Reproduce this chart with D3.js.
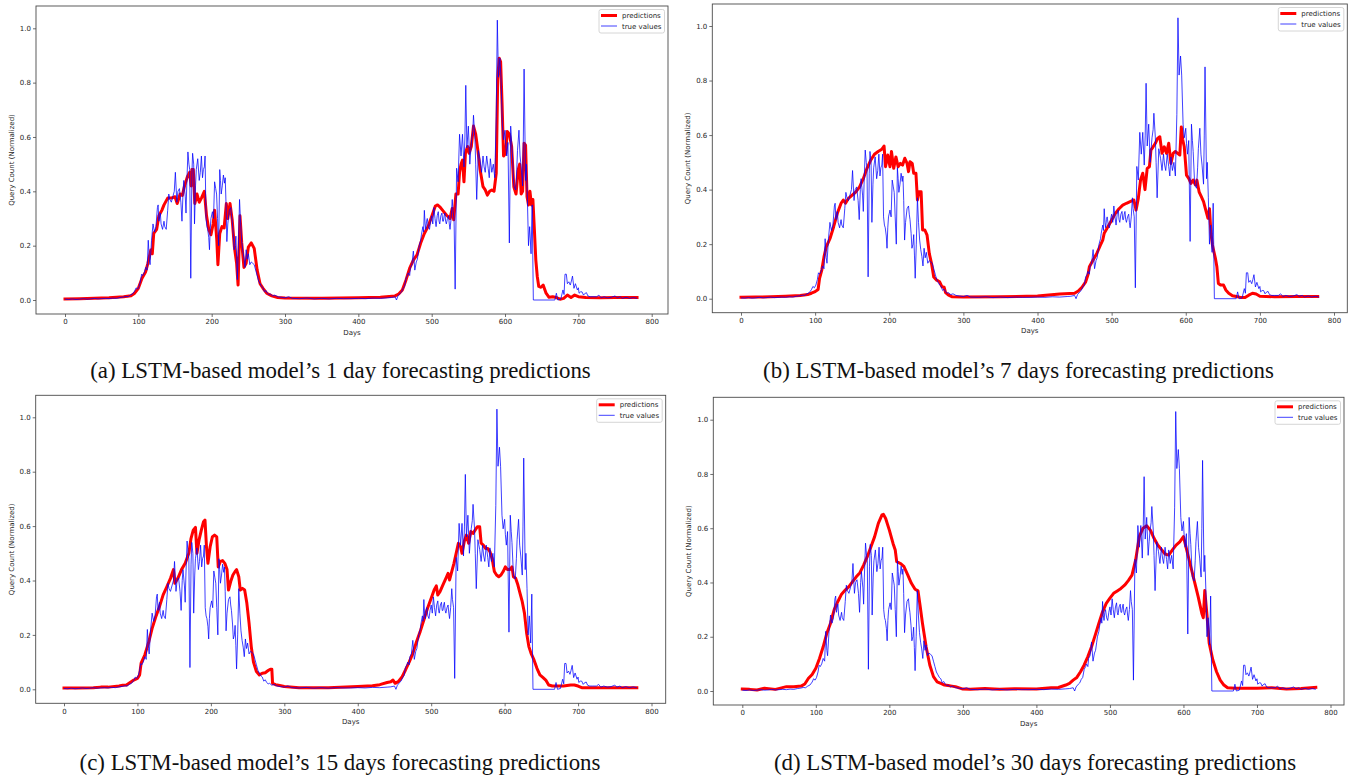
<!DOCTYPE html>
<html>
<head>
<meta charset="utf-8">
<script src="https://cdn.jsdelivr.net/npm/d3@7"></script>
<style>
  html, body { margin: 0; padding: 0; background: #ffffff; }
  svg { display: block; }
</style>
</head>
<body>
<svg id="fig" width="1357" height="778"></svg>
<script>
// Normalised daily query counts: [day, value]
const trueValues = [
  [0,0.003],[5,0.002],[10,0.004],[15,0.002],[20,0.003],[25,0.005],[30,0.003],[35,0.004],[40,0.006],[45,0.004],
  [50,0.005],[55,0.006],[60,0.005],[65,0.007],[70,0.006],[75,0.009],[80,0.011],[83,0.013],[86,0.012],[89,0.018],
  [92,0.022],[95,0.033],[97,0.045],[99,0.04],[101,0.05],[103,0.07],[104.5,0.095],[106,0.09],[108,0.1],[110,0.12],
  [112,0.11],[113.5,0.22],[115,0.15],[116,0.13],[118,0.22],[120,0.28],[122,0.25],[124,0.27],[126,0.34],[127,0.35],
  [128,0.29],[130,0.32],[131,0.28],[133,0.26],[135,0.29],[136,0.27],[138,0.26],[140,0.33],[141.5,0.39],[143,0.37],
  [145,0.36],[147,0.38],[149,0.40],[150.5,0.47],[152.5,0.36],[154,0.40],[156,0.41],[158,0.36],[159.5,0.29],[161,0.40],
  [162,0.44],[164,0.38],[165,0.32],[166,0.42],[167.6,0.545],[169,0.50],[170,0.48],[171.5,0.08],[173,0.46],[174,0.54],
  [175.5,0.50],[176.6,0.28],[178,0.42],[179,0.48],[181,0.52],[183,0.44],[184.5,0.47],[186,0.53],[187.5,0.45],[188.7,0.48],
  [190,0.49],[191,0.53],[192.3,0.30],[193.5,0.27],[194.6,0.26],[196,0.23],[197,0.185],[198,0.26],[199,0.30],[201,0.325],
  [202.5,0.30],[204,0.435],[205.5,0.41],[206.7,0.39],[208,0.30],[209.5,0.20],[211,0.48],[212,0.44],[213,0.39],[214.5,0.42],
  [216,0.46],[217.5,0.43],[218.5,0.45],[219.5,0.36],[220.7,0.215],[222,0.28],[224,0.33],[226,0.34],[227,0.31],[228,0.29],
  [229.5,0.24],[230.6,0.185],[232,0.20],[233,0.235],[234,0.16],[235,0.075],[236.5,0.20],[238,0.37],[239.5,0.28],[241,0.215],
  [242.5,0.18],[244,0.155],[245.5,0.12],[247,0.185],[248.5,0.15],[250,0.17],[252,0.13],[254,0.14],[256,0.135],[258,0.13],
  [260,0.11],[262,0.09],[264,0.07],[266,0.06],[268,0.05],[270,0.045],[272,0.03],[274,0.035],[276,0.025],[278,0.02],
  [280,0.022],[283,0.015],[286,0.018],[290,0.012],[295,0.01],[300,0.008],[305,0.012],[310,0.006],[320,0.005],[330,0.007],
  [340,0.004],[350,0.006],[360,0.004],[370,0.006],[380,0.005],[390,0.005],[400,0.006],[410,0.005],[420,0.007],[430,0.006],
  [440,0.008],[445,0.009],[450,0.012],[452,0.0],[454,0.015],[457,0.025],[459,0.03],[461,0.043],[463,0.05],[465,0.08],
  [467,0.09],[468,0.1],[470,0.09],[471,0.12],[473,0.13],[475,0.18],[477,0.11],[479,0.14],[480.5,0.15],[482,0.18],
  [483,0.20],[485,0.22],[486,0.24],[488,0.27],[489,0.25],[490,0.33],[491,0.28],[492,0.26],[493,0.29],[494,0.30],
  [495.5,0.27],[497,0.26],[498.5,0.29],[500,0.31],[501.5,0.28],[503,0.34],[504.5,0.30],[506,0.27],[507.5,0.31],[509,0.325],
  [510,0.29],[511,0.28],[512.5,0.31],[514,0.32],[515,0.29],[516,0.29],[517,0.31],[518,0.32],[519,0.29],[520,0.28],
  [521.5,0.30],[523,0.31],[524,0.28],[525,0.26],[526.5,0.30],[528,0.37],[529,0.33],[530.5,0.30],[532,0.04],[534,0.485],
  [536,0.435],[538,0.61],[540,0.53],[542,0.61],[544,0.49],[545.3,0.60],[546.5,0.79],[548,0.56],[550,0.64],[552,0.50],
  [553.3,0.55],[554.5,0.59],[556,0.62],[557,0.68],[559,0.59],[560,0.50],[561.4,0.37],[563.6,0.55],[566,0.515],[568,0.47],
  [570,0.53],[571.5,0.49],[573,0.47],[575,0.53],[577,0.485],[578.5,0.45],[580,0.52],[582,0.47],[584,0.50],[586,0.45],
  [588,0.675],[589.5,1.03],[591,0.82],[593,0.89],[594.5,0.82],[596.4,0.64],[598,0.59],[600,0.625],[601,0.57],[602.3,0.53],
  [604,0.58],[605.9,0.21],[607.7,0.64],[609,0.58],[610,0.54],[612,0.42],[614.5,0.405],[616,0.48],[617,0.55],[619,0.625],
  [620.5,0.53],[622,0.49],[624,0.42],[625,0.60],[626,0.85],[628,0.44],[629,0.50],[630.5,0.37],[632,0.20],[633.6,0.27],
  [635.5,0.17],[637,0.35],[638.6,0.0],[668,0.0],[670,0.025],[672,0.0],[676,0.003],[679,0.037],[680.5,0.02],[681.8,0.095],
  [683.6,0.095],[685,0.06],[687,0.067],[689,0.055],[690.5,0.07],[692,0.088],[694,0.043],[696,0.06],[698.6,0.037],[700,0.045],
  [701,0.025],[703,0.03],[705,0.03],[707,0.018],[708,0.022],[711,0.027],[713,0.015],[716,0.012],[720,0.012],[725,0.012],
  [728,0.018],[731,0.008],[735,0.012],[740,0.008],[745,0.01],[750,0.015],[753,0.008],[757,0.012],[760,0.006],[765,0.01],
  [770,0.006],[775,0.009],[780,0.006]
];

// Model outputs for each forecasting horizon: [day, value]
const predOneDay = [
  [0,0.004],[20,0.005],[40,0.006],[60,0.008],[80,0.012],[90,0.016],[95,0.025],[100,0.043],[105,0.08],[110,0.104],
  [113,0.135],[117,0.184],[119,0.17],[121,0.245],[125,0.26],[128,0.31],[132,0.33],[135,0.35],[140,0.375],[145,0.375],
  [150,0.38],[153,0.355],[157,0.39],[160,0.385],[163,0.42],[167,0.455],[170,0.47],[172,0.42],[173,0.48],[175,0.48],
  [177,0.355],[180,0.39],[183,0.36],[186,0.375],[190,0.40],[193,0.31],[196,0.26],[199,0.24],[202,0.28],[204,0.33],
  [207,0.22],[208.5,0.13],[211,0.245],[214,0.27],[217,0.265],[220,0.355],[222,0.30],[225,0.355],[228,0.295],[231,0.195],
  [234,0.135],[236,0.055],[238.6,0.31],[241,0.21],[244,0.12],[247,0.135],[250,0.195],[254,0.21],[258,0.19],[262,0.11],
  [266,0.06],[270,0.043],[275,0.025],[282,0.015],[290,0.009],[300,0.007],[350,0.006],[400,0.008],[430,0.01],[450,0.015],
  [455,0.022],[460,0.037],[465,0.074],[470,0.117],[475,0.147],[480,0.166],[485,0.21],[490,0.245],[495,0.27],[500,0.307],
  [505,0.346],[508,0.35],[511,0.343],[515,0.33],[520,0.313],[525,0.30],[528,0.337],[530,0.295],[533,0.39],[536,0.39],
  [538,0.47],[540,0.50],[542,0.515],[544,0.435],[546,0.54],[549,0.565],[551,0.54],[554,0.565],[557,0.64],[560,0.61],
  [563,0.55],[566,0.48],[570,0.417],[573,0.405],[576,0.386],[579,0.40],[582,0.405],[585,0.40],[588,0.466],[590,0.81],
  [592,0.89],[594,0.877],[596,0.72],[598,0.53],[601,0.54],[603,0.62],[606,0.61],[609,0.565],[612,0.417],[615,0.39],
  [618,0.48],[620,0.50],[622,0.39],[624,0.40],[626,0.577],[628,0.57],[630,0.38],[632,0.35],[634,0.40],[636,0.35],
  [638,0.37],[640,0.26],[642,0.147],[644,0.086],[646,0.05],[649,0.047],[652,0.055],[656,0.025],[660,0.01],[665,0.012],
  [670,0.009],[675,0.003],[680,0.006],[685,0.018],[690,0.009],[695,0.018],[700,0.012],[710,0.009],[730,0.008],[750,0.009],
  [780,0.009]
];

const predSevenDays = [
  [0,0.005],[20,0.006],[40,0.007],[60,0.009],[80,0.012],[90,0.015],[95,0.02],[100,0.026],[104,0.034],[106,0.075],
  [109,0.105],[112,0.154],[115,0.19],[120,0.22],[125,0.264],[130,0.313],[135,0.35],[138,0.362],[141,0.35],[145,0.368],
  [150,0.38],[155,0.392],[160,0.41],[165,0.44],[170,0.478],[175,0.508],[180,0.53],[185,0.54],[190,0.548],[193,0.56],
  [195,0.484],[198,0.527],[201,0.484],[203,0.54],[206,0.478],[209,0.52],[212,0.484],[215,0.496],[218,0.49],[221,0.515],
  [224,0.496],[226,0.466],[228,0.502],[231,0.496],[233,0.46],[236,0.46],[238,0.362],[240,0.392],[243,0.392],[245,0.252],
  [248,0.252],[251,0.233],[254,0.166],[257,0.13],[260,0.08],[264,0.068],[268,0.062],[271,0.044],[274,0.042],[276,0.022],
  [280,0.013],[285,0.007],[300,0.006],[350,0.007],[400,0.01],[430,0.017],[450,0.02],[455,0.028],[460,0.042],[465,0.062],
  [468,0.087],[470,0.117],[475,0.142],[480,0.166],[485,0.197],[488,0.215],[490,0.24],[495,0.264],[500,0.288],[505,0.313],
  [510,0.33],[515,0.343],[520,0.35],[525,0.356],[530,0.362],[533,0.325],[536,0.368],[539,0.435],[542,0.46],[545,0.40],
  [548,0.478],[551,0.484],[553,0.545],[556,0.557],[559,0.57],[562,0.588],[565,0.594],[568,0.533],[571,0.557],[574,0.533],
  [577,0.57],[580,0.496],[583,0.533],[586,0.54],[589,0.533],[592,0.527],[594,0.63],[596,0.582],[598,0.557],[601,0.453],
  [604,0.441],[607,0.423],[610,0.435],[613,0.417],[615,0.435],[618,0.392],[621,0.374],[624,0.356],[627,0.325],[630,0.295],
  [632,0.33],[634,0.24],[636,0.197],[638,0.172],[640,0.148],[642,0.117],[644,0.056],[647,0.05],[651,0.05],[654,0.032],
  [658,0.02],[663,0.011],[670,0.007],[675,0.004],[680,0.004],[685,0.013],[690,0.02],[695,0.017],[700,0.009],[720,0.007],
  [750,0.008],[778,0.008]
];

const predFifteenDays = [
  [0,0.005],[20,0.005],[40,0.006],[50,0.008],[60,0.008],[75,0.012],[80,0.015],[85,0.016],[90,0.025],[95,0.034],
  [100,0.04],[103,0.053],[105,0.096],[110,0.126],[115,0.17],[120,0.224],[125,0.267],[130,0.304],[135,0.347],[140,0.377],
  [145,0.408],[149,0.44],[151,0.39],[155,0.408],[160,0.44],[165,0.463],[170,0.50],[173,0.555],[176,0.585],[179,0.595],
  [181,0.50],[184,0.55],[187,0.585],[190,0.616],[192,0.622],[194,0.524],[196,0.463],[199,0.524],[202,0.56],[205,0.567],
  [208,0.56],[210,0.45],[213,0.47],[216,0.473],[219,0.463],[222,0.44],[224,0.365],[227,0.396],[230,0.42],[233,0.433],
  [235,0.44],[238,0.414],[240,0.365],[243,0.371],[246,0.365],[249,0.316],[252,0.243],[255,0.157],[258,0.10],[262,0.065],
  [266,0.053],[270,0.059],[274,0.061],[278,0.069],[281,0.074],[283,0.074],[284,0.022],[288,0.017],[292,0.015],[300,0.01],
  [320,0.006],[360,0.006],[400,0.01],[420,0.013],[430,0.017],[440,0.025],[445,0.028],[448,0.034],[451,0.022],[455,0.028],
  [460,0.044],[465,0.071],[470,0.10],[475,0.132],[480,0.175],[485,0.212],[490,0.255],[495,0.298],[500,0.335],[504,0.365],
  [507,0.38],[509,0.347],[512,0.359],[516,0.384],[520,0.408],[523,0.426],[525,0.402],[528,0.433],[531,0.463],[534,0.50],
  [537,0.537],[540,0.524],[542,0.50],[545,0.543],[548,0.567],[551,0.537],[554,0.58],[557,0.573],[560,0.586],[563,0.598],
  [566,0.598],[568,0.537],[571,0.53],[574,0.518],[577,0.518],[580,0.506],[583,0.48],[586,0.433],[589,0.42],[592,0.414],
  [595,0.42],[598,0.433],[601,0.45],[604,0.44],[607,0.44],[610,0.45],[612,0.414],[615,0.408],[618,0.384],[621,0.353],
  [624,0.322],[627,0.28],[630,0.206],[633,0.157],[636,0.132],[640,0.108],[644,0.077],[648,0.053],[652,0.044],[656,0.034],
  [660,0.016],[665,0.012],[680,0.012],[690,0.016],[695,0.016],[700,0.012],[705,0.006],[740,0.006],[780,0.006]
];

const predThirtyDays = [
  [0,0.007],[10,0.006],[20,0.004],[30,0.01],[45,0.006],[60,0.016],[70,0.016],[80,0.018],[85,0.026],[90,0.047],
  [95,0.061],[100,0.084],[105,0.12],[110,0.163],[115,0.213],[120,0.25],[125,0.30],[130,0.33],[135,0.357],[140,0.372],
  [145,0.385],[150,0.403],[155,0.421],[160,0.436],[165,0.464],[170,0.495],[175,0.532],[180,0.569],[185,0.618],[190,0.649],
  [192,0.651],[195,0.636],[200,0.593],[205,0.544],[208,0.52],[210,0.477],[215,0.47],[220,0.458],[225,0.428],[230,0.397],
  [235,0.375],[239,0.369],[242,0.311],[245,0.25],[250,0.163],[255,0.096],[260,0.053],[265,0.034],[270,0.028],[275,0.022],
  [280,0.02],[285,0.018],[290,0.016],[300,0.007],[310,0.006],[330,0.009],[350,0.006],[370,0.008],[400,0.007],[420,0.012],
  [430,0.013],[440,0.022],[445,0.028],[450,0.04],[455,0.05],[460,0.071],[465,0.096],[470,0.127],[475,0.163],[480,0.206],
  [485,0.25],[490,0.292],[495,0.323],[500,0.342],[505,0.36],[510,0.369],[515,0.378],[520,0.39],[525,0.407],[530,0.427],
  [535,0.483],[540,0.569],[545,0.60],[550,0.609],[555,0.593],[560,0.563],[565,0.538],[570,0.522],[575,0.505],[580,0.501],
  [585,0.52],[590,0.538],[595,0.55],[600,0.569],[605,0.514],[610,0.458],[615,0.403],[620,0.348],[625,0.286],[627,0.27],
  [629,0.37],[632,0.28],[635,0.176],[640,0.114],[645,0.071],[650,0.04],[655,0.022],[660,0.012],[670,0.01],[700,0.01],
  [720,0.012],[740,0.007],[760,0.009],[780,0.013]
];

const xTickValues = [0, 100, 200, 300, 400, 500, 600, 700, 800];
const yTickValues = [0.0, 0.2, 0.4, 0.6, 0.8, 1.0];
const legendLabels = ["predictions", "true values"];
const xAxisTitle = "Days";
const yAxisTitle = "Query Count (Normalized)";
const captions = [
  "(a) LSTM-based model\u2019s 1 day forecasting predictions",
  "(b) LSTM-based model\u2019s 7 days forecasting predictions",
  "(c) LSTM-based model\u2019s 15 days forecasting predictions",
  "(d) LSTM-based model\u2019s 30 days forecasting predictions"
];
const predictionSeries = [predOneDay, predSevenDays, predFifteenDays, predThirtyDays];

// Layout of the four subplots (pixel frame, axis anchors and caption anchor)
const layout = [
  { box: { l: 36,    t: 6,     r: 668,    b: 314   }, xr: [65, 651.7],    yr: [300, 28.3],   cap: [340.5, 378] },
  { box: { l: 712.3, t: 4,     r: 1347.3, b: 312.7 }, xr: [741, 1334],    yr: [298.7, 26],   cap: [1018.5, 378] },
  { box: { l: 35.7,  t: 395.3, r: 665.7,  b: 703.3 }, xr: [64, 651.5],    yr: [689.3, 417.3], cap: [340, 770] },
  { box: { l: 713.3, t: 397.3, r: 1344,   b: 705   }, xr: [742.3, 1330.5], yr: [691, 419.7],  cap: [1035, 770] }
];

const COLORS = { pred: "#ff0000", truth: "#0000ff", spine: "#4a4a4a", text: "#262626" };
const SANS = "'DejaVu Sans', sans-serif";

const svg = d3.select("#fig");

layout.forEach((p, i) => {
  const g = svg.append("g").attr("class", "panel");
  const x = d3.scaleLinear().domain([0, 800]).range(p.xr);
  const y = d3.scaleLinear().domain([0, 1]).range(p.yr);
  const { l, t, r, b } = p.box;

  const clipId = "clip" + i;
  g.append("clipPath").attr("id", clipId)
    .append("rect").attr("x", l).attr("y", t).attr("width", r - l).attr("height", b - t);

  const line = d3.line().x(d => x(d[0])).y(d => y(d[1]));

  const plot = g.append("g").attr("clip-path", `url(#${clipId})`);
  plot.append("path")
    .datum(predictionSeries[i])
    .attr("d", line)
    .attr("fill", "none")
    .attr("stroke", COLORS.pred)
    .attr("stroke-width", 3)
    .attr("stroke-linejoin", "round")
    .attr("stroke-linecap", "square");
  plot.append("path")
    .datum(trueValues)
    .attr("d", line)
    .attr("fill", "none")
    .attr("stroke", COLORS.truth)
    .attr("stroke-opacity", 0.75)
    .attr("stroke-width", 1)
    .attr("stroke-linejoin", "round");

  // axes
  const xAxis = g.append("g")
    .attr("transform", `translate(0,${b})`)
    .call(d3.axisBottom(x).tickValues(xTickValues).tickSize(3).tickPadding(2.5).tickFormat(d3.format("d")));
  const yAxis = g.append("g")
    .attr("transform", `translate(${l},0)`)
    .call(d3.axisLeft(y).tickValues(yTickValues).tickSize(3).tickPadding(2).tickFormat(d3.format(".1f")));
  [xAxis, yAxis].forEach(a => {
    a.select(".domain").remove();
    a.selectAll(".tick line").attr("stroke", COLORS.spine).attr("stroke-width", 0.8);
    a.selectAll(".tick text").attr("fill", COLORS.text).style("font-family", SANS).style("font-size", "7px");
  });

  // frame
  g.append("rect")
    .attr("x", l).attr("y", t).attr("width", r - l).attr("height", b - t)
    .attr("fill", "none").attr("stroke", COLORS.spine).attr("stroke-width", 0.9);

  // axis titles
  g.append("text")
    .attr("x", (l + r) / 2).attr("y", b + 20.5)
    .attr("text-anchor", "middle")
    .style("font-family", SANS).style("font-size", "7px").attr("fill", COLORS.text)
    .text(xAxisTitle);
  g.append("text")
    .attr("transform", `translate(${l - 22},${(t + b) / 2}) rotate(-90)`)
    .attr("text-anchor", "middle")
    .style("font-family", SANS).style("font-size", "7px").attr("fill", COLORS.text)
    .text(yAxisTitle);

  // legend
  const lw = 65.5, lh = 23.5;
  const lx = r - 3.5 - lw, ly = t + 3.5;
  const leg = g.append("g");
  leg.append("rect")
    .attr("x", lx).attr("y", ly).attr("width", lw).attr("height", lh).attr("rx", 2)
    .attr("fill", "#ffffff").attr("fill-opacity", 0.8)
    .attr("stroke", "#cccccc").attr("stroke-width", 0.8);
  const rows = [
    { label: legendLabels[0], color: COLORS.pred, width: 3, opacity: 1, dy: 6 },
    { label: legendLabels[1], color: COLORS.truth, width: 1, opacity: 0.75, dy: 16.5 }
  ];
  rows.forEach(row => {
    leg.append("line")
      .attr("x1", lx + 2).attr("x2", lx + 18)
      .attr("y1", ly + row.dy).attr("y2", ly + row.dy)
      .attr("stroke", row.color).attr("stroke-width", row.width).attr("stroke-opacity", row.opacity);
    leg.append("text")
      .attr("x", lx + 23).attr("y", ly + row.dy + 2.5)
      .style("font-family", SANS).style("font-size", "7px").attr("fill", COLORS.text)
      .text(row.label);
  });

  // caption
  svg.append("text")
    .attr("class", "caption")
    .attr("x", p.cap[0]).attr("y", p.cap[1])
    .attr("text-anchor", "middle")
    .style("font-family", "'Liberation Serif', 'DejaVu Serif', serif")
    .style("font-size", "19px")
    .attr("fill", "#111111")
    .text(captions[i]);
});

// Size captions so the first one spans its column width
const caps = svg.selectAll(".caption").nodes();
const w0 = caps[0].getComputedTextLength();
const fs = 19 * 501 / w0;
caps.forEach(n => n.style.fontSize = fs + "px");
</script>
</body>
</html>
